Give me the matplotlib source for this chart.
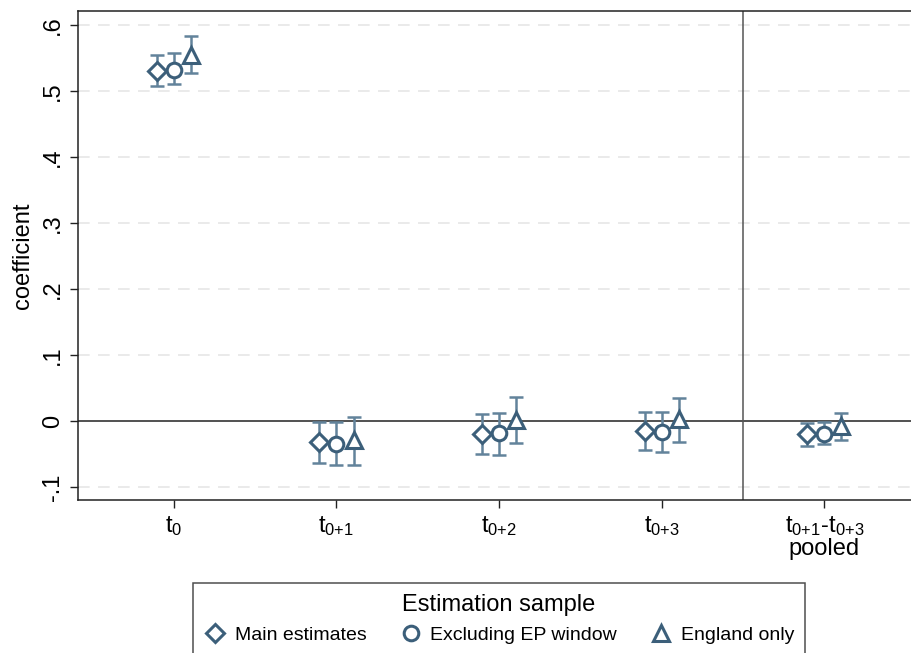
import matplotlib
matplotlib.use("Agg")
import numpy as np
import matplotlib.pyplot as plt

plt.rcParams['font.family'] = ['Liberation Sans', 'DejaVu Sans']
plt.rcParams['mathtext.fontset'] = 'custom'
plt.rcParams['mathtext.rm'] = 'Liberation Sans'
plt.rcParams['mathtext.it'] = 'Liberation Sans:italic'

# periods on the x axis
periods = [r'$\mathrm{t_{0}}$', r'$\mathrm{t_{0{+}1}}$', r'$\mathrm{t_{0{+}2}}$',
           r'$\mathrm{t_{0{+}3}}$', r'$\mathrm{t_{0{+}1}}$-$\mathrm{t_{0{+}3}}$' + '\npooled']

# point estimates and confidence bounds per sample
main_est = [0.530, -0.032, -0.020, -0.015, -0.020]
main_lo = [0.507, -0.063, -0.049, -0.044, -0.037]
main_hi = [0.555, -0.001, 0.011, 0.014, -0.003]

excl_est = [0.532, -0.034, -0.018, -0.016, -0.019]
excl_lo = [0.510, -0.067, -0.051, -0.046, -0.035]
excl_hi = [0.557, -0.001, 0.012, 0.014, -0.002]

eng_est = [0.554, -0.028, 0.001, 0.003, -0.007]
eng_lo = [0.527, -0.066, -0.033, -0.032, -0.028]
eng_hi = [0.584, 0.006, 0.036, 0.035, 0.012]

yticks = [-0.1, 0, 0.1, 0.2, 0.3, 0.4, 0.5, 0.6]
ytick_labels = ['-.1', '0', '.1', '.2', '.3', '.4', '.5', '.6']

mark_col = '#3c5f7a'
bar_col = '#62839b'

fig = plt.figure(figsize=(9.12, 6.53), dpi=100)
ax = fig.add_axes([0.0855, 0.234, 0.9145, 0.749])

x = np.arange(1, len(periods) + 1)
off = 0.105

series = [
    (main_est, main_lo, main_hi, -off, 'D', 9.5, 'Main estimates'),
    (excl_est, excl_lo, excl_hi, 0.0, 'o', 10.5, 'Excluding EP window'),
    (eng_est, eng_lo, eng_hi, off, '^', 12, 'England only'),
]

handles = []
for est, lo, hi, dx, mk, ms, lab in series:
    est = np.array(est)
    err = np.vstack([est - np.array(lo), np.array(hi) - est])
    ax.errorbar(x + dx, est, yerr=err, fmt='none', ecolor=bar_col,
                elinewidth=1.8, capsize=5, capthick=1.8, zorder=3)
    h, = ax.plot(x + dx, est, linestyle='none', marker=mk, markersize=ms,
                 markerfacecolor='white', markeredgecolor=mark_col,
                 markeredgewidth=2.2, zorder=4, label=lab)
    handles.append(h)

for yv in yticks:
    if yv != 0:
        ax.axhline(yv, color='#e6e6e6', lw=1.2, ls=(0, (7, 5)), zorder=1)
ax.axhline(0, color='#222222', lw=1.1, zorder=2)
ax.axvline(4.5, color='#555555', lw=1.1, zorder=2)

ax.set_xlim(0.41, 5.54)
ax.set_ylim(-0.1197, 0.621)
ax.set_xticks(x)
ax.set_xticklabels(periods, fontsize=17, linespacing=1.0)
ax.set_yticks(yticks)
ax.set_yticklabels(ytick_labels, fontsize=17, rotation=90, va='center')
ax.tick_params(axis='both', direction='out', length=6, width=1, color='#222222')
ax.tick_params(axis='x', pad=4)
ax.tick_params(axis='y', pad=4)
ax.set_ylabel('coefficient', fontsize=17, labelpad=6)

for s in ['left', 'top', 'bottom']:
    ax.spines[s].set_color('#222222')
    ax.spines[s].set_linewidth(1.1)
ax.spines['right'].set_visible(False)

leg = fig.legend(handles=handles, loc='upper left', ncol=3,
                 bbox_to_anchor=(0.2116, 0.0, 0.671, 0.107),
                 mode='expand', title='Estimation sample', title_fontsize=17,
                 fontsize=14, frameon=True, fancybox=False, edgecolor='#222222',
                 handletextpad=0.4, handlelength=1.2, borderpad=0.55,
                 labelspacing=0.55, borderaxespad=0.0)
leg.get_frame().set_linewidth(1.1)

fig.savefig('out.png', dpi=100)
